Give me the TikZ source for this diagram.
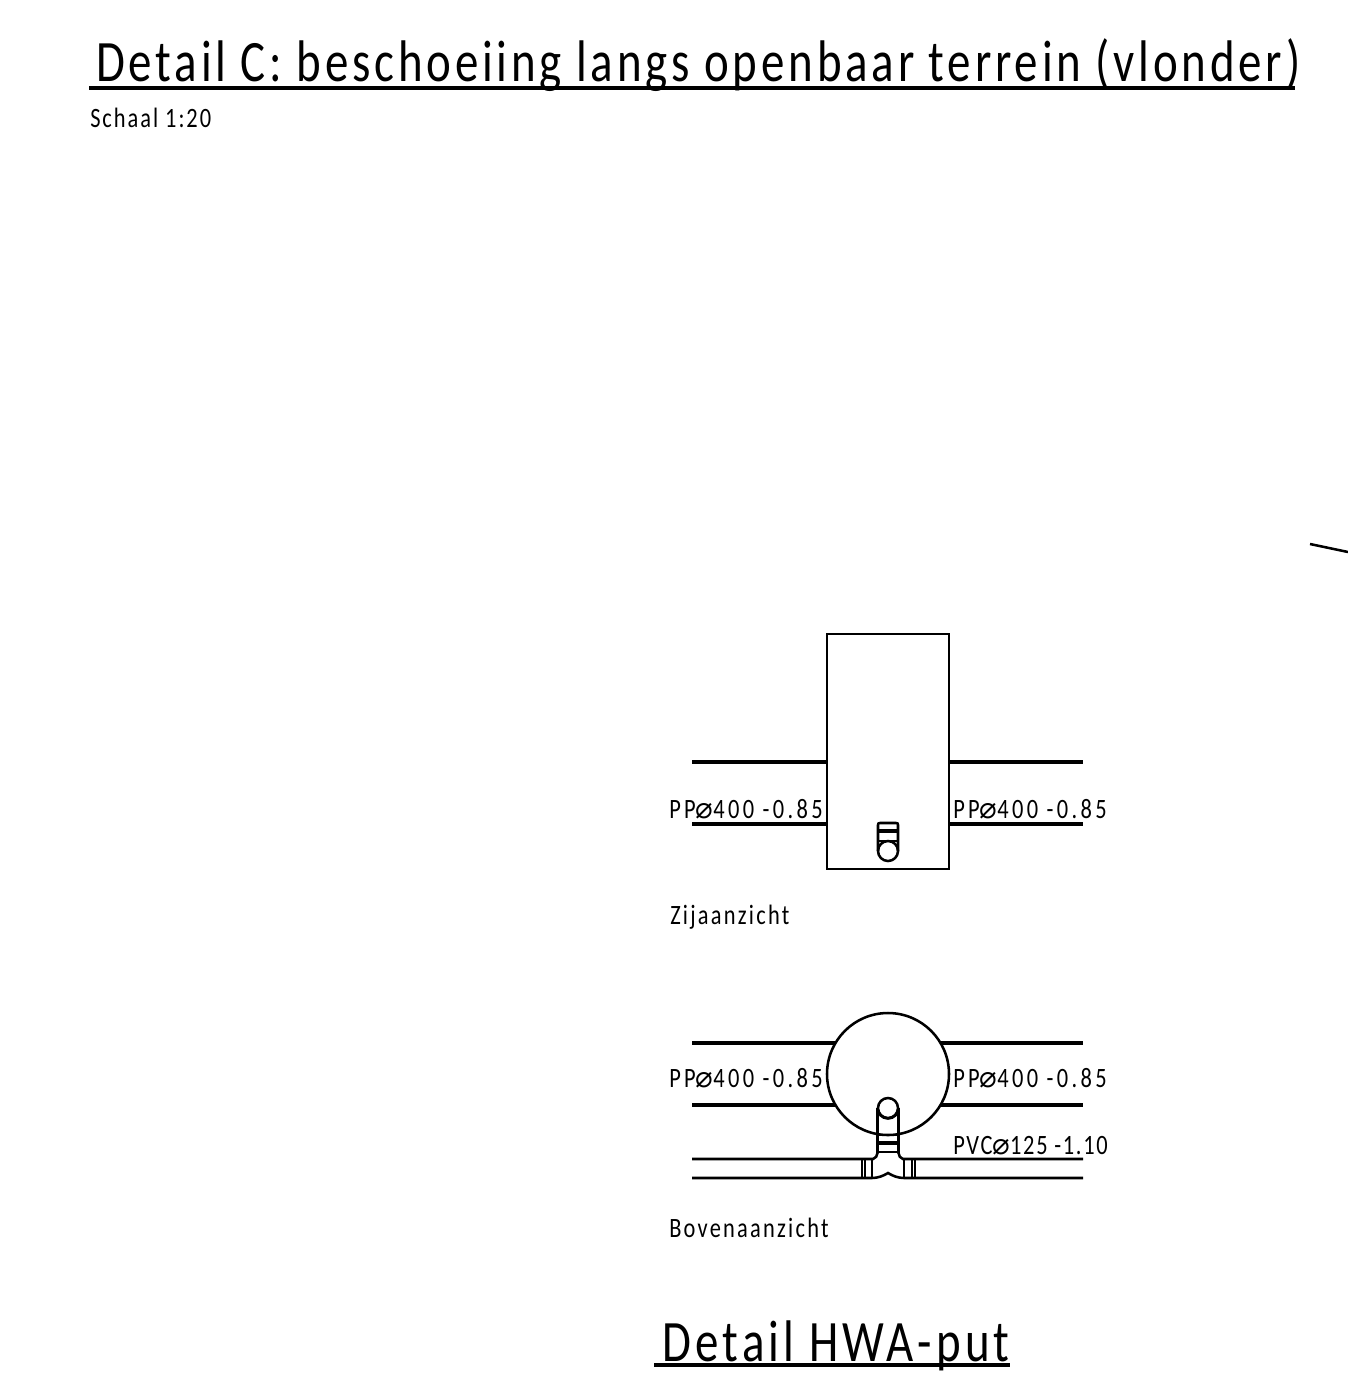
\documentclass[tikz,border=0pt]{standalone}
\usepackage{fontspec}
\setmainfont{Carlito}
\newfontfamily\symfont{DejaVu Sans}
\newcommand{\dia}{{\symfont\fontsize{22}{22}\selectfont ⌀}}
\tikzset{every picture/.style={line width=1.9pt}}
\tikzset{
	pipeline/.style={line width=3pt},
	thinline/.style={line width=1.9pt},
	bigtext/.style={anchor=base west,inner sep=0pt,font=\fontsize{44}{44}\selectfont\addfontfeature{FakeStretch=0.8,LetterSpace=#1}},
	smalltext/.style={anchor=base west,inner sep=0pt,font=\fontsize{21}{21}\selectfont\addfontfeature{FakeStretch=0.8,LetterSpace=#1}}
}

\begin{document}
\begin{tikzpicture}[x=0.75pt,y=0.75pt,yscale=-1,xscale=1]
	\useasboundingbox (0,0) rectangle (1348,1400);
	
	% Title lines
	\draw [pipeline] (89,88) -- (1295,88) ;
	\draw [pipeline] (654,1365) -- (1010,1365) ;
	\draw [thinline] (1310,544) -- (1348,552) ;
	
	% Side view
	\draw [thinline] (827,634) rectangle (949,869) ;
	\draw [pipeline] (692,762) -- (827,762) ;
	\draw [pipeline] (692,824) -- (827,824) ;
	\draw [pipeline] (949,762) -- (1083,762) ;
	\draw [pipeline] (949,824) -- (1083,824) ;
	\draw [thinline] (878,851) -- (878,825) .. controls (878,823.5) and (878.5,823) .. (880,823) -- (896,823) .. controls (897.5,823) and (898,823.5) .. (898,825) -- (898,851) ;
	\draw [thinline] (878,851) arc (180:0:10) arc (0:-180:10) ;
	\draw [thinline] (878,830) -- (898,830) ;
	\draw [thinline] (878,832) -- (898,832) ;
	\draw [thinline] (878,841) -- (898,841) ;
	
	% Top view
	\draw [thinline] (888,1074) circle [radius=61*0.75pt] ;
	\draw [pipeline] (692,1043) -- (836,1043) ;
	\draw [pipeline] (692,1105) -- (836,1105) ;
	\draw [pipeline] (940,1043) -- (1083,1043) ;
	\draw [pipeline] (940,1105) -- (1083,1105) ;
	\draw [thinline] (888,1108) circle [radius=10*0.75pt] ;
	\draw [thinline] (692,1159) -- (873,1159) .. controls (876,1158) and (877,1156) .. (877.5,1153) -- (877.5,1108) arc (180:0:10.5) -- (898.5,1153) .. controls (899,1156) and (900,1158) .. (903,1159) -- (1083,1159) ;
	\draw [thinline] (692,1178) -- (872,1178) .. controls (878,1178) and (883,1176) .. (888,1173) .. controls (893,1176) and (898,1178) .. (904,1178) -- (1083,1178) ;
	\draw [thinline] (877.5,1135) -- (898.5,1135) ;
	\draw [pipeline] (877.5,1143) -- (898.5,1143) ;
	\draw [thinline] (877.5,1152) -- (898.5,1152) ;
	\draw [thinline] (862,1159) -- (862,1178) ;
	\draw [thinline] (865,1159) -- (865,1178) ;
	\draw [thinline] (872,1159) -- (872,1178) ;
	\draw [thinline] (904,1159) -- (904,1178) ;
	\draw [thinline] (912,1159) -- (912,1178) ;
	\draw [thinline] (915,1159) -- (915,1178) ;
	
	% Text Node
	\node (titledetailc) [bigtext=6.5] at (95,81) {Detail C: beschoeiing langs openbaar terrein (vlonder)};
	% Text Node
	\node (titleschaal) [smalltext=7] at (89,127) {Schaal 1:20};
	% Text Node
	\node (sideleft) [smalltext=12] at (668,818) {PP\dia400 -0.85};
	% Text Node
	\node (sideright) [smalltext=12] at (952,818) {PP\dia400 -0.85};
	% Text Node
	\node (sidename) [smalltext=8] at (669,924) {Zijaanzicht};
	% Text Node
	\node (topleft) [smalltext=12] at (668,1087) {PP\dia400 -0.85};
	% Text Node
	\node (topright) [smalltext=12] at (952,1087) {PP\dia400 -0.85};
	% Text Node
	\node (toppvc) [smalltext=6] at (952,1154) {PVC\dia125 -1.10};
	% Text Node
	\node (topname) [smalltext=8] at (668,1237) {Bovenaanzicht};
	% Text Node
	\node (titlehwa) [bigtext=7.2] at (661,1361) {Detail HWA-put};
	
\end{tikzpicture}
\end{document}
